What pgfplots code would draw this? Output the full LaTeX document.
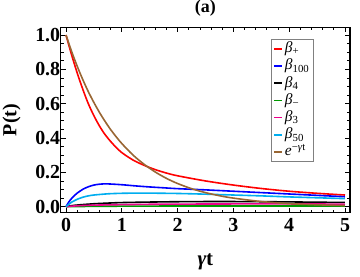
\documentclass[border=0pt]{standalone}
\usepackage{fontspec}
\setmainfont{Liberation Serif}
\usepackage{pgfplots}
\pgfplotsset{compat=1.18}
\definecolor{mbrown}{rgb}{0.6,0.4,0.2}
\definecolor{mgreen}{rgb}{0,0.6,0}
\begin{document}
\begin{tikzpicture}
\useasboundingbox (-60.7bp,-64.3bp) rectangle (299.3bp,212.7bp);
\begin{axis}[
  at={(0,0)}, anchor=south west,
  scale only axis, width=289.3bp, height=185.4bp,
  xmin=-0.095, xmax=5.09, ymin=-0.035, ymax=1.045,
  xtick={0,1,2,3,4,5}, minor x tick num=4,
  ytick={0,0.2,0.4,0.6,0.8,1.0}, minor y tick num=3,
  tick align=inside, major tick length=5bp, minor tick length=3bp,
  axis line style={line width=1.2bp}, tick style={line width=0.8bp, black},
  /pgf/number format/assume math mode=true,
  ticklabel style={font=\fontsize{20}{22}\selectfont\bfseries},
  yticklabel style={/pgf/number format/fixed, /pgf/number format/precision=1, /pgf/number format/fixed zerofill, xshift=3bp},
  xticklabel style={yshift=-2.3bp},
  title={\textbf{(a)}}, title style={font=\fontsize{18}{20}\selectfont, at={(axis description cs:0.5,1)}, anchor=center, yshift=13bp, inner sep=0pt},
  xlabel={\textbf{\textit{γ}t}}, x label style={font=\fontsize{21}{23}\selectfont, at={(axis description cs:0.5,0)}, anchor=center, yshift=-49bp},
  ylabel={\textbf{P(t)}}, y label style={font=\fontsize{20}{22}\selectfont, at={(axis description cs:-0.170,0.5)}, anchor=center, inner sep=0pt},
  legend style={at={(rel axis cs:0.727,0.937)}, anchor=north west, draw=gray, line width=0.6bp, font=\fontsize{15.5}{15.5}\selectfont, inner xsep=2bp, inner ysep=1bp, nodes={inner ysep=0.5bp, text height=12bp, text depth=4.2bp}},
  legend cell align=left,
  legend image code/.code={\draw[#1, line width=1.6bp] (0bp,0bp) -- (8bp,0bp);},
  every axis plot/.append style={line width=1.6bp, smooth, no markers},
]
\addplot[red] coordinates {(0,1) (0.1,0.885) (0.2,0.78) (0.3,0.685) (0.4,0.60) (0.5,0.53) (0.6,0.47) (0.7,0.42) (0.8,0.38) (0.9,0.345) (1.0,0.315) (1.2,0.272) (1.4,0.241) (1.6,0.216) (1.8,0.196) (2.0,0.180) (2.5,0.150) (3,0.126) (3.5,0.106) (4,0.090) (4.5,0.078) (5,0.068)};
\addlegendentry{\textit{β}\textsubscript{+}}
\addplot[blue] coordinates {(0,0) (0.05,0.027) (0.1,0.048) (0.15,0.065) (0.2,0.079) (0.3,0.101) (0.4,0.116) (0.5,0.126) (0.6,0.131) (0.7,0.133) (0.8,0.132) (1.0,0.128) (1.25,0.121) (1.5,0.115) (1.75,0.110) (2,0.105) (2.5,0.098) (3,0.090) (3.5,0.082) (4,0.074) (4.5,0.066) (5,0.058)};
\addlegendentry{\textit{β}\textsubscript{100}}
\addplot[black] coordinates {(0,0) (0.1,0.006) (0.25,0.011) (0.5,0.017) (0.75,0.021) (1,0.024) (1.5,0.027) (2,0.029) (2.5,0.030) (3,0.030) (3.5,0.029) (4,0.028) (4.5,0.026) (5,0.025)};
\addlegendentry{\textit{β}\textsubscript{4}}
\addplot[mgreen] coordinates {(0,0) (0.25,0.001) (0.5,0.002) (1,0.003) (2,0.004) (3,0.004) (5,0.004)};
\addlegendentry{\textit{β}\textsubscript{−}}
\addplot[magenta] coordinates {(0,0) (0.1,0.003) (0.25,0.006) (0.5,0.009) (1,0.012) (1.5,0.014) (2,0.015) (3,0.016) (4,0.016) (5,0.015)};
\addlegendentry{\textit{β}\textsubscript{3}}
\addplot[cyan] coordinates {(0,0) (0.05,0.014) (0.1,0.026) (0.2,0.043) (0.3,0.055) (0.4,0.063) (0.5,0.068) (0.75,0.075) (1,0.078) (1.25,0.079) (1.5,0.079) (2,0.077) (2.5,0.073) (3,0.068) (3.5,0.063) (4,0.057) (4.5,0.052) (5,0.047)};
\addlegendentry{\textit{β}\textsubscript{50}}
\addplot[mbrown] coordinates {(0,1) (0.1,0.905) (0.2,0.819) (0.3,0.741) (0.4,0.670) (0.5,0.607) (0.6,0.549) (0.7,0.497) (0.8,0.449) (0.9,0.407) (1.0,0.368) (1.2,0.301) (1.4,0.247) (1.6,0.202) (1.8,0.165) (2.0,0.135) (2.25,0.105) (2.5,0.082) (2.75,0.064) (3,0.050) (3.5,0.030) (4,0.018) (4.5,0.011) (5,0.0067)};
\addlegendentry{\textit{e}\textsuperscript{−\textit{γ}t}}
\end{axis}
\end{tikzpicture}
\end{document}
